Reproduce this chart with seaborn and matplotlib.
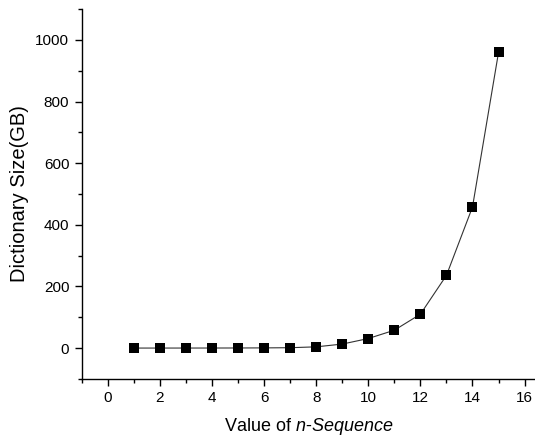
import matplotlib
matplotlib.use("Agg")
import matplotlib.pyplot as plt
from matplotlib.ticker import MultipleLocator
import seaborn as sns
import pandas as pd

# n-sequence length and resulting dictionary size
n_values = [1, 2, 3, 4, 5, 6, 7, 8, 9, 10, 11, 12, 13, 14, 15]
size_gb = [0.02, 0.04, 0.08, 0.15, 0.3, 0.6, 1.2, 4, 13, 31, 58, 110, 236, 458, 960]

df = pd.DataFrame({"n": n_values, "size": size_gb})

sns.set_style("ticks")
plt.rcParams["font.family"] = ["Liberation Sans", "DejaVu Sans"]
plt.rcParams["mathtext.fontset"] = "custom"
plt.rcParams["mathtext.rm"] = "Liberation Sans"
plt.rcParams["mathtext.it"] = "Liberation Sans:italic"
plt.rcParams["text.color"] = "black"
plt.rcParams["axes.labelcolor"] = "black"

fig = plt.figure(figsize=(5.35, 4.37), dpi=100)
ax = fig.add_axes([0.153, 0.133, 0.847, 0.846])

sns.lineplot(data=df, x="n", y="size", ax=ax, color="#333333", linewidth=0.8,
             marker="s", markersize=6.5, markerfacecolor="black",
             markeredgecolor="black", markeredgewidth=0)

ax.set_xlim(-1, 16.4)
ax.set_ylim(-100, 1100)
ax.xaxis.set_major_locator(MultipleLocator(2))
ax.xaxis.set_minor_locator(MultipleLocator(1))
ax.yaxis.set_major_locator(MultipleLocator(200))
ax.yaxis.set_minor_locator(MultipleLocator(100))

for side in ("top", "right"):
    ax.spines[side].set_visible(False)
for side in ("left", "bottom"):
    ax.spines[side].set_linewidth(1.0)
    ax.spines[side].set_color("black")

ax.tick_params(which="major", direction="out", length=5, width=1.0,
               labelsize=11, colors="black", pad=4)
ax.tick_params(which="minor", direction="out", length=3, width=1.0, colors="black")

ax.set_xlabel("Value of $\\mathit{n}$-$\\mathit{Sequence}$", fontsize=13, labelpad=8,
              color="black")
ax.set_ylabel("Dictionary Size(GB)", fontsize=14.5, color="black")
ax.yaxis.set_label_coords(-0.117, 0.5)

fig.savefig("out.png", dpi=100)
